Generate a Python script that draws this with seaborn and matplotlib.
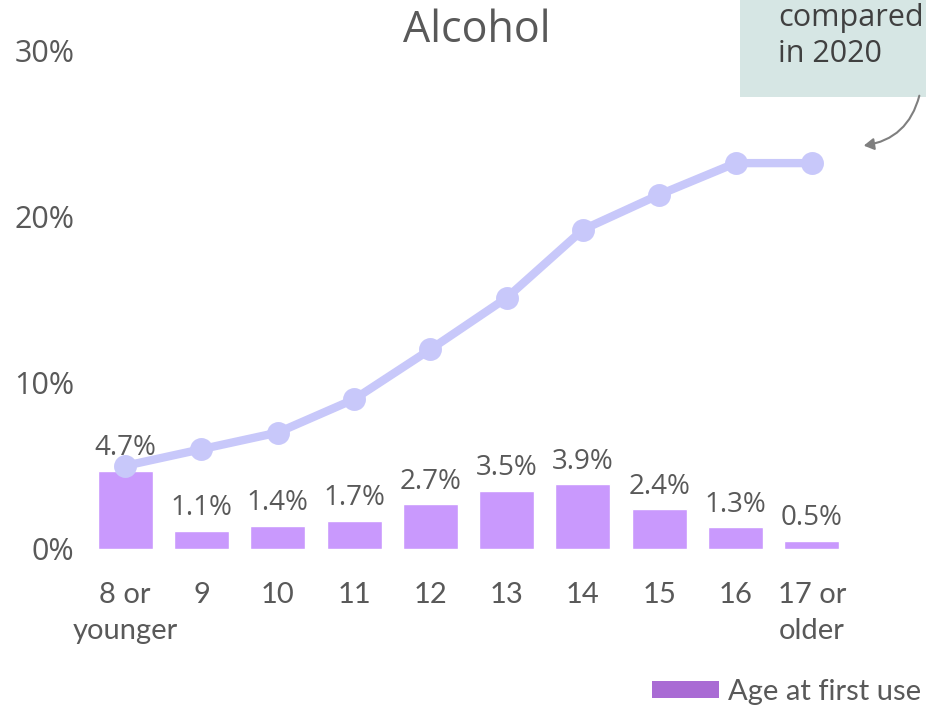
import matplotlib
matplotlib.use("Agg")
import matplotlib.pyplot as plt
import seaborn as sns
import pandas as pd
from matplotlib.patches import Rectangle, FancyArrowPatch, Patch

# ---- data ----
ages = ["8 or\nyounger", "9", "10", "11", "12", "13", "14", "15", "16", "17 or\nolder"]
first_use = [4.7, 1.1, 1.4, 1.7, 2.7, 3.5, 3.9, 2.4, 1.3, 0.5]
cumulative = [5.0, 6.0, 7.0, 9.0, 12.0, 15.1, 19.2, 21.3, 23.2, 23.2]
bar_labels = ["4.7%", "1.1%", "1.4%", "1.7%", "2.7%", "3.5%", "3.9%", "2.4%", "1.3%", "0.5%"]
y_ticks = [0, 10, 20, 30]
y_tick_labels = ["0%", "10%", "20%", "30%"]
title = "Alcohol"
note_lines = "compared\nin 2020"
legend_label = "Age at first use"

BAR = "#c999fd"
LINE = "#c8c8fa"
LEG = "#a96bd4"
TXT = "#595959"

sns.set_theme(style="white")
plt.rcParams["font.family"] = ["Open Sans", "DejaVu Sans"]

df = pd.DataFrame({"age": ages, "first": first_use, "cum": cumulative})

W, H = 926, 708
fig = plt.figure(figsize=(W / 100, H / 100), dpi=100)
ax = fig.add_axes([87 / W, 1 - 549 / H, (850 - 87) / W, (549 - 50) / H])

sns.barplot(data=df, x="age", y="first", order=ages, color=BAR, saturation=1,
            width=0.72, ax=ax, zorder=2)
sns.pointplot(data=df, x="age", y="cum", order=ages, color=LINE, markers="o",
              markersize=12, linewidth=6, ax=ax, zorder=3)

for i, (v, lab) in enumerate(zip(first_use, bar_labels)):
    ax.annotate(lab, (i, v), xytext=(0, 6), textcoords="offset points",
                ha="center", va="bottom", fontsize=20, color=TXT)

ax.set_xlim(-0.5, len(ages) - 0.5)
ax.set_ylim(0, 30)
ax.set_yticks(y_ticks)
ax.set_yticklabels(y_tick_labels)
ax.tick_params(axis="y", labelsize=22, labelcolor=TXT, length=0, pad=9)
ax.tick_params(axis="x", labelsize=21, labelcolor=TXT, length=0, pad=24)
for t in ax.get_xticklabels():
    t.set_family(["Lato", "DejaVu Sans"])
    t.set_linespacing(1.45)
ax.set_xlabel("")
ax.set_ylabel("")
for s in ax.spines.values():
    s.set_visible(False)
ax.grid(False)

fig.text(477 / W, 1 - 31 / H, title, ha="center", va="center", fontsize=31, color=TXT)

# note box (cut off at top right)
fig.patches.append(Rectangle((740 / W, 1 - 97 / H), (W - 740) / W + 0.01, 97 / H + 0.01,
                             transform=fig.transFigure, facecolor="#d6e6e4",
                             edgecolor="none", zorder=0))
fig.text(778 / W, 1 - 36 / H, note_lines, ha="left", va="center", fontsize=22,
         color="#404040", linespacing=1.3)
arrow = FancyArrowPatch((920 / W, 1 - 93 / H), (861 / W, 1 - 146 / H),
                        transform=fig.transFigure, connectionstyle="arc3,rad=-0.35",
                        arrowstyle="-|>,head_length=6,head_width=3.5", color="#7f7f7f",
                        lw=1.5)
fig.patches.append(arrow)

leg = fig.legend(handles=[Patch(facecolor=LEG, edgecolor="none", label=legend_label)],
                 loc="center left", bbox_to_anchor=(652 / W, 1 - 692 / H), frameon=False,
                 handlelength=2.3, handleheight=0.5, handletextpad=0.3,
                 prop={"family": ["Lato", "DejaVu Sans"], "size": 21}, borderaxespad=0,
                 borderpad=0)
for t in leg.get_texts():
    t.set_color(TXT)

fig.savefig("out.png", dpi=100)
